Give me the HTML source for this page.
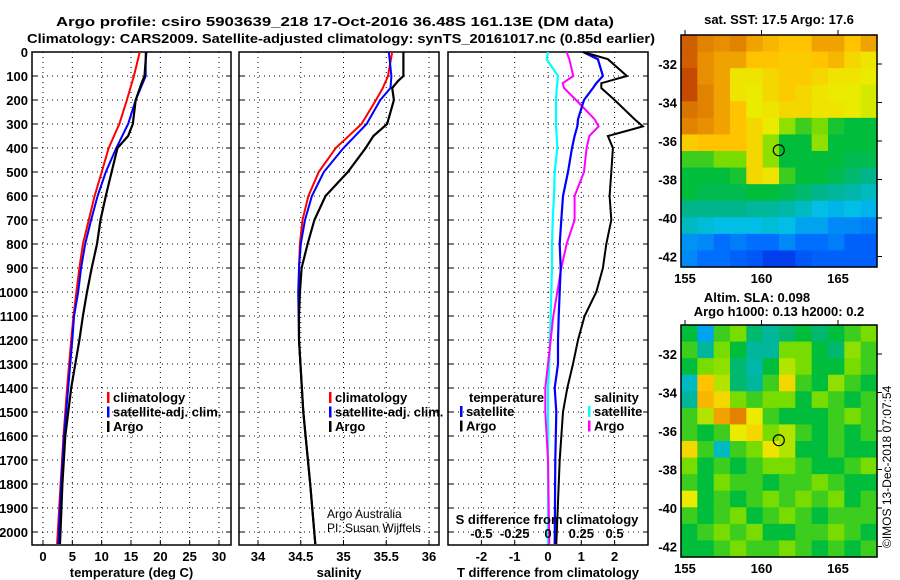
<!DOCTYPE html>
<html><head><meta charset="utf-8"><style>
body{margin:0;background:#fff}
svg{display:block;font-family:"Liberation Sans",sans-serif}
.b{font-weight:bold;font-size:13px}
</style></head><body>
<svg id="chart" width="900" height="580" viewBox="0 0 900 580" xmlns="http://www.w3.org/2000/svg">
<g>
<text x="56" y="26" class="b" font-size="15" textLength="558" lengthAdjust="spacingAndGlyphs">Argo profile: csiro 5903639_218 17-Oct-2016 36.48S 161.13E (DM data)</text>
<text x="27" y="43" class="b" font-size="15" textLength="628" lengthAdjust="spacingAndGlyphs">Climatology: CARS2009. Satellite-adjusted climatology: synTS_20161017.nc (0.85d earlier)</text>
</g>
<g id="plots"></g>
<text transform="translate(891,548) rotate(-90)" font-size="12">©IMOS 13-Dec-2018 07:07:54</text>
</svg>
<script>
// ---- Profile data ----
const depthT = [0,100,200,300,400,500,600,700,800,900,1000,1100,1200,1400,1600,1800,2050];
const tempClim = [16.5,15.5,14.3,13.0,11.2,10.0,8.8,7.8,6.8,6.2,5.7,5.2,4.8,4.1,3.5,3.0,2.4];
const tempSat  = [17.5,17.5,15.8,14.5,12.5,10.7,9.3,8.2,7.2,6.5,6.0,5.3,5.0,4.3,3.6,3.1,2.6];
const depthArgoT = [0,100,130,200,300,350,400,500,600,700,800,900,1000,1100,1200,1400,1600,1800,2050];
const tempArgo = [17.6,17.3,16.8,15.8,15.3,14.5,12.7,11.7,10.7,9.8,9.2,8.3,7.5,6.8,6.2,4.8,3.8,3.3,2.9];

const depthS = [0,100,150,200,300,400,500,600,700,800,900,1000,1200,1500,1800,2050];
const salClim = [35.57,35.52,35.46,35.38,35.21,34.91,34.71,34.59,34.52,34.49,34.48,34.48,34.48,34.53,34.61,34.67];
const salSat  = [35.53,35.56,35.55,35.43,35.27,35.00,34.77,34.63,34.55,34.50,34.48,34.47,34.48,34.53,34.61,34.67];
const depthArgoS = [0,100,120,150,200,300,350,400,500,600,700,800,900,1000,1100,1200,1500,1800,2050];
const salArgo = [35.70,35.70,35.64,35.57,35.59,35.51,35.35,35.26,35.05,34.79,34.66,34.58,34.51,34.49,34.48,34.48,34.53,34.61,34.67];

const depthD = [0,30,100,130,150,200,280,310,350,400,500,600,700,800,900,1000,1100,1200,1300,1400,1500,1700,2050];
const tDiffSat  = [1.05,1.5,1.65,1.45,1.35,1.08,0.9,0.88,0.8,0.72,0.6,0.45,0.4,0.35,0.38,0.35,0.32,0.3,0.3,0.2,0.25,0.22,0.2];
const tDiffArgo = [1.05,1.8,2.37,1.6,1.6,2.0,2.6,2.85,1.8,1.95,1.9,1.85,1.9,1.75,1.65,1.45,1.1,0.9,0.75,0.58,0.45,0.35,0.25];
const sDiffSat  = [0.0,-0.01,0.075,0.07,0.065,0.06,0.06,0.06,0.065,0.07,0.05,0.045,0.035,0.03,0.03,0.025,0.02,0.015,0.01,0.0,0.0,0.0,0.0];
const sDiffArgo = [0.14,0.16,0.19,0.11,0.12,0.21,0.35,0.38,0.31,0.29,0.27,0.2,0.2,0.14,0.1,0.07,0.04,0.02,0.0,-0.02,-0.02,0.0,0.01];

const depthTicks = [0,100,200,300,400,500,600,700,800,900,1000,1100,1200,1300,1400,1500,1600,1700,1800,1900,2000];
const tTicks = [0,5,10,15,20,25,30];
const sTicks = [34,34.5,35,35.5,36];
const dTTicks = [-2,-1,0,1,2];
const dSTicks = [-0.5,-0.25,0,0.25,0.5];
const dSTickLabels = ['-0.5','-0.25','0','0.25','0.5'];

// ---- Map data (0=cold/low, 1=warm/high) ----
const lonTicks = [155,160,165];
const latTicks = [-32,-34,-36,-38,-40,-42];
const sstGrid = [
[0.95,0.9,0.88,0.9,0.85,0.82,0.8,0.8,0.85,0.85,0.8,0.85],
[0.95,0.88,0.85,0.85,0.8,0.8,0.78,0.78,0.8,0.82,0.75,0.72],
[0.98,0.88,0.85,0.72,0.72,0.75,0.78,0.78,0.75,0.72,0.72,0.7],
[0.98,0.9,0.85,0.72,0.7,0.75,0.78,0.75,0.72,0.7,0.7,0.68],
[0.92,0.9,0.85,0.8,0.7,0.72,0.75,0.75,0.72,0.72,0.7,0.68],
[0.9,0.88,0.85,0.8,0.75,0.7,0.62,0.55,0.6,0.52,0.5,0.5],
[0.78,0.8,0.8,0.8,0.75,0.62,0.5,0.5,0.62,0.5,0.5,0.5],
[0.55,0.55,0.6,0.6,0.75,0.62,0.5,0.5,0.5,0.5,0.48,0.48],
[0.5,0.5,0.5,0.52,0.75,0.72,0.55,0.5,0.5,0.48,0.45,0.42],
[0.5,0.48,0.48,0.48,0.5,0.5,0.48,0.45,0.42,0.4,0.38,0.35],
[0.42,0.42,0.42,0.42,0.4,0.4,0.38,0.35,0.3,0.28,0.3,0.28],
[0.35,0.32,0.3,0.3,0.3,0.32,0.3,0.25,0.25,0.2,0.2,0.18],
[0.22,0.2,0.15,0.18,0.15,0.15,0.2,0.15,0.15,0.18,0.12,0.12],
[0.2,0.15,0.15,0.12,0.1,0.05,0.05,0.1,0.12,0.12,0.12,0.12]];
const slaGrid = [
[0.5,0.25,0.55,0.6,0.45,0.4,0.45,0.5,0.45,0.5,0.55,0.6],
[0.55,0.4,0.6,0.5,0.4,0.4,0.6,0.6,0.5,0.45,0.62,0.55],
[0.5,0.6,0.62,0.45,0.38,0.5,0.65,0.6,0.5,0.5,0.6,0.55],
[0.35,0.8,0.65,0.45,0.4,0.55,0.75,0.55,0.5,0.62,0.55,0.5],
[0.4,0.82,0.75,0.6,0.55,0.6,0.6,0.5,0.6,0.55,0.5,0.55],
[0.55,0.65,0.85,0.9,0.7,0.55,0.5,0.5,0.5,0.55,0.6,0.55],
[0.55,0.5,0.55,0.7,0.75,0.6,0.65,0.55,0.5,0.55,0.5,0.55],
[0.75,0.55,0.35,0.55,0.6,0.72,0.65,0.5,0.5,0.55,0.5,0.5],
[0.6,0.5,0.55,0.5,0.55,0.6,0.6,0.55,0.5,0.5,0.55,0.6],
[0.55,0.5,0.6,0.55,0.55,0.5,0.55,0.55,0.6,0.55,0.5,0.5],
[0.7,0.5,0.55,0.5,0.55,0.6,0.55,0.6,0.55,0.6,0.5,0.55],
[0.55,0.5,0.55,0.6,0.5,0.55,0.6,0.55,0.5,0.55,0.55,0.55],
[0.5,0.55,0.6,0.55,0.6,0.5,0.5,0.55,0.55,0.6,0.55,0.5],
[0.5,0.5,0.55,0.6,0.55,0.55,0.6,0.55,0.5,0.55,0.5,0.55]];
const argoLon = 161.13, argoLat = -36.48;

const NS='http://www.w3.org/2000/svg';
const root=document.getElementById('plots');
function mk(tag,attrs,parent){const e=document.createElementNS(NS,tag);for(const k in attrs)e.setAttribute(k,attrs[k]);(parent||root).appendChild(e);return e;}
function txt(x,y,s,attrs,parent){const e=mk('text',Object.assign({x:x,y:y},attrs||{}),parent);e.textContent=s;return e;}

const Y0=52, Y1=545;
const yD=d=>Y0+d*0.24;
function lin(d0,d1,r0,r1){return v=>r0+(v-d0)*(r1-r0)/(d1-d0);}

function panel(name,x0,x1,xs,xticks,xlabels,xtitle,showY){
  const g=mk('g',{});
  
  
  depthTicks.forEach(d=>{const l=mk('line',{x1:x0,x2:x1,y1:yD(d),y2:yD(d),stroke:'#000','stroke-width':1,'stroke-dasharray':'1 4'},g);
    
    mk('line',{x1:x0,x2:x0+5,y1:yD(d),y2:yD(d),stroke:'#000'},g);
    mk('line',{x1:x1,x2:x1-5,y1:yD(d),y2:yD(d),stroke:'#000'},g);
    if(showY){const t=txt(x0-4,yD(d)+5,String(d),{class:'b','text-anchor':'end'},g);}
  });
  xticks.forEach((v,i)=>{const x=xs(v);
    const l=mk('line',{x1:x,x2:x,y1:Y0,y2:Y1,stroke:'#000','stroke-dasharray':'1 4'},g);
    
    mk('line',{x1:x,x2:x,y1:Y1,y2:Y1-5,stroke:'#000'},g);
    const t=txt(x,561,xlabels[i],{class:'b','text-anchor':'middle'},g);
    });
  const f=mk('rect',{x:x0,y:Y0,width:x1-x0,height:Y1-Y0,fill:'none',stroke:'#000','stroke-width':1.5},g);
  
  const t=txt((x0+x1)/2,577,xtitle,{class:'b','text-anchor':'middle'},g);
  
  return g;
}
function line(g,depths,vals,xs,color,w,nm){
  const p=mk('path',{d:depths.map((d,i)=>(i?'L':'M')+xs(vals[i]).toFixed(1)+','+yD(d).toFixed(1)).join(''),fill:'none',stroke:color,'stroke-width':w},g);
  
}
function legend(g,x,y,items){items.forEach((it,i)=>{
  const r=mk('rect',{x:x,y:y+i*14.5-10,width:2.5,height:11,fill:it[1]},g);
  
  const t=txt(x+6,y+i*14.5,it[0],{class:'b'},g);
  });}

const xT=lin(0,30,43,219);
const g1=panel('temperature-panel',32,231,xT,tTicks,tTicks.map(String),'temperature (deg C)',true);
line(g1,depthT,tempClim,xT,'#f00',2,'temp-climatology-line');
line(g1,depthT,tempSat,xT,'#00f',2,'temp-satellite-line');
line(g1,depthArgoT,tempArgo,xT,'#000',2.2,'temp-argo-line');
legend(g1,107,402,[['climatology','#f00'],['satellite-adj. clim.','#00f'],['Argo','#000']]);

const xS=lin(34,36,258,429);
const g2=panel('salinity-panel',239,439,xS,sTicks,sTicks.map(String),'salinity',false);
line(g2,depthS,salClim,xS,'#f00',2,'sal-climatology-line');
line(g2,depthS,salSat,xS,'#00f',2,'sal-satellite-line');
line(g2,depthArgoS,salArgo,xS,'#000',2.2,'sal-argo-line');
legend(g2,329,402,[['climatology','#f00'],['satellite-adj. clim.','#00f'],['Argo','#000']]);
let c1=txt(327,518,'Argo Australia',{'font-size':'12'},g2);
let c2=txt(327,532,'PI: Susan Wijffels',{'font-size':'12'},g2);

const xDT=lin(0,1,548,581.3);
const xDS=lin(0,0.25,548,581.3);
const g3=panel('difference-panel',448,648,xDT,dTTicks,dTTicks.map(String),'T difference from climatology',false);
line(g3,depthD,sDiffSat,xDS,'#0ff',2.2,'sdiff-satellite-line');
line(g3,depthD,sDiffArgo,xDS,'#f0f',2,'sdiff-argo-line');
line(g3,depthD,tDiffSat,xDT,'#00f',2.2,'tdiff-satellite-line');
line(g3,depthD,tDiffArgo,xDT,'#000',2,'tdiff-argo-line');
let st=txt(547,524,'S difference from climatology',{class:'b','text-anchor':'middle'},g3);
dSTicks.forEach((v,i)=>{const t=txt(xDS(v),538,dSTickLabels[i],{class:'b','text-anchor':'middle'},g3);});
let lt=txt(469,402,'temperature',{class:'b'},g3);
legend(g3,460,416,[['satellite','#00f'],['Argo','#000']]);
let ls=txt(594,402,'salinity',{class:'b'},g3);
legend(g3,588,416,[['satellite','#0ff'],['Argo','#f0f']]);

const stops=[[0,[0,40,230]],[0.15,[0,110,255]],[0.3,[0,190,230]],[0.42,[0,180,140]],[0.5,[0,190,60]],[0.6,[120,220,0]],[0.7,[235,235,0]],[0.8,[255,195,0]],[0.9,[225,130,0]],[1,[190,60,0]]];
function cmap(v){for(let i=1;i<stops.length;i++){if(v<=stops[i][0]){const a=stops[i-1],b=stops[i],t=(v-a[0])/(b[0]-a[0]);return 'rgb('+a[1].map((c,k)=>Math.round(c+(b[1][k]-c)*t)).join(',')+')';}}return 'rgb(190,60,0)';}
function map(name,y0,y1,grid,titles){
  const X0=681,X1=877;
  const xL=lin(155,165,685,838), yL=lin(-32,-42,y0+29,y0+29+192.5);
  const g=mk('g',{});
  
  const rows=grid.length, cols=grid[0].length, cw=(X1-X0)/cols, ch=(y1-y0)/rows;
  grid.forEach((row,r)=>row.forEach((v,c)=>{const e=mk('rect',{x:X0+c*cw,y:y0+r*ch,width:cw+0.6,height:ch+0.6,fill:cmap(v)},g);
    }));
  const f=mk('rect',{x:X0,y:y0,width:X1-X0,height:y1-y0,fill:'none',stroke:'#000','stroke-width':1.5},g);
  
  lonTicks.forEach(v=>{mk('line',{x1:xL(v),x2:xL(v),y1:y0,y2:y0-5,stroke:'#000'},g);
    const t=txt(xL(v),y1+16,String(v),{class:'b','text-anchor':'middle'},g);});
  latTicks.forEach(v=>{mk('line',{x1:X1,x2:X1+5,y1:yL(v),y2:yL(v),stroke:'#000'},g);
    const t=txt(X0-4,yL(v)+5,String(v),{class:'b','text-anchor':'end'},g);});
  const c=mk('circle',{cx:xL(argoLon),cy:yL(argoLat),r:5.5,fill:'none',stroke:'#000','stroke-width':1.2},g);
  
  titles.forEach(tt=>{const t=txt(tt[0],tt[1],tt[2],{class:'b','text-anchor':'middle','font-size':'12'},g);});
}
map('sst-map',35,267,sstGrid,[[779,24,'sat. SST: 17.5 Argo: 17.6']]);
map('sla-map',325,557,slaGrid,[[757,302,'Altim. SLA: 0.098'],[779,316,'Argo h1000: 0.13 h2000: 0.2']]);
</script>
</body></html>
